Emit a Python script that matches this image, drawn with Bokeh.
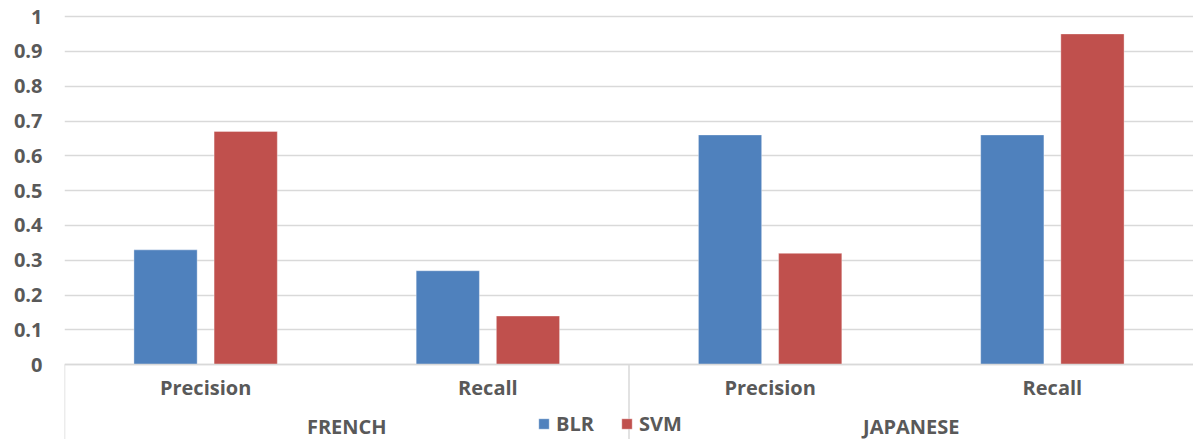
from bokeh.plotting import figure
from bokeh.models import (FactorRange, Range1d, FixedTicker, NumeralTickFormatter,
                          ColumnDataSource, Legend, LegendItem)
from bokeh.transform import dodge
from bokeh.core.properties import value
from bokeh.embed import file_html
from bokeh.resources import INLINE

# ---- data -------------------------------------------------------------
languages = ["FRENCH", "JAPANESE"]
metrics = ["Precision", "Recall"]
blr = [0.33, 0.27, 0.66, 0.66]   # FRENCH Precision, FRENCH Recall, JAPANESE Precision, JAPANESE Recall
svm = [0.67, 0.14, 0.32, 0.95]
y_ticks = [0, 0.1, 0.2, 0.3, 0.4, 0.5, 0.6, 0.7, 0.8, 0.9, 1]
y_tick_labels = ["0", "0.1", "0.2", "0.3", "0.4", "0.5", "0.6", "0.7", "0.8", "0.9", "1"]
series_names = ["BLR", "SVM"]

# ---- style ------------------------------------------------------------
BLUE = "#4F81BD"
RED = "#C0504D"
TEXT = "#595959"
GRID = "#D9D9D9"
FONT = "Open Sans"
FSIZE = "20px"

factors = [(lang, m) for lang in languages for m in metrics]
src = ColumnDataSource(data=dict(cat=factors, blr=blr, svm=svm))

x_range = FactorRange(*factors, group_padding=0, factor_padding=0,
                      subgroup_padding=0, range_padding=0)
# value range extended below zero so the category band sits inside the frame
y_range = Range1d(-0.2145, 1.046)

p = figure(width=1193, height=439, x_range=x_range, y_range=y_range,
           output_backend="svg", toolbar_location=None,
           min_border_left=64, min_border_right=0,
           min_border_top=0, min_border_bottom=0)
p.outline_line_color = None
p.background_fill_color = "white"
p.border_fill_color = "white"

# ---- bars -------------------------------------------------------------
bar_w = 0.224
shift = 0.142
r_blr = p.vbar(x=dodge("cat", -shift, range=p.x_range), top="blr", width=bar_w,
               source=src, fill_color=BLUE, line_color="white", line_alpha=0.35, line_width=1)
r_svm = p.vbar(x=dodge("cat", shift, range=p.x_range), top="svm", width=bar_w,
               source=src, fill_color=RED, line_color="white", line_alpha=0.35, line_width=1)

# ---- y axis / grid ----------------------------------------------------
yax = p.yaxis[0]
yax.ticker = FixedTicker(ticks=y_ticks)
yax.formatter = NumeralTickFormatter(format="0.[0]")
yax.major_label_overrides = dict(zip(y_ticks, y_tick_labels))
yax.axis_line_color = None
yax.major_tick_line_color = None
yax.minor_tick_line_color = None
yax.major_tick_out = 0
yax.major_tick_in = 0
yax.major_label_standoff = 22
yax.major_label_text_font = FONT
yax.major_label_text_font_size = FSIZE
yax.major_label_text_font_style = "bold"
yax.major_label_text_color = TEXT

p.ygrid.grid_line_color = GRID
p.ygrid.grid_line_width = 1.5
p.xgrid.grid_line_color = None

# ---- category axis at zero --------------------------------------------
xax = p.xaxis[0]
xax.fixed_location = 0
xax.axis_line_color = GRID
xax.axis_line_width = 1.5
xax.major_tick_line_color = None
xax.minor_tick_line_color = None
xax.major_tick_out = 0
xax.major_tick_in = 0
xax.major_label_standoff = 9
xax.major_label_text_font = FONT
xax.major_label_text_font_size = FSIZE
xax.major_label_text_font_style = "bold"
xax.major_label_text_color = TEXT
xax.group_text_color = None
xax.separator_line_color = None

# group boundaries of the category band
y_low = y_range.start
sep_x = [(lang, metrics[0], -0.5) for lang in languages]
p.segment(x0=sep_x, y0=[0] * len(sep_x), x1=sep_x, y1=[y_low] * len(sep_x),
          line_color=GRID, line_width=1.5)

# language labels under each group
p.text(x=languages, y=[-0.176] * len(languages), text=languages,
       text_font=value(FONT), text_font_size=FSIZE, text_font_style="bold",
       text_color=TEXT, text_align="center", text_baseline="middle")

# ---- legend -----------------------------------------------------------
legend = Legend(items=[LegendItem(label=series_names[0], renderers=[r_blr]),
                       LegendItem(label=series_names[1], renderers=[r_svm])],
                orientation="horizontal", location=(473, 2),
                glyph_width=13, glyph_height=13, label_height=13,
                label_standoff=6, spacing=26, padding=0, margin=0,
                background_fill_alpha=0, border_line_color=None,
                label_text_font=FONT, label_text_font_size=FSIZE,
                label_text_font_style="bold", label_text_color=TEXT)
p.add_layout(legend)

open("out.html", "w").write(file_html(p, INLINE))
